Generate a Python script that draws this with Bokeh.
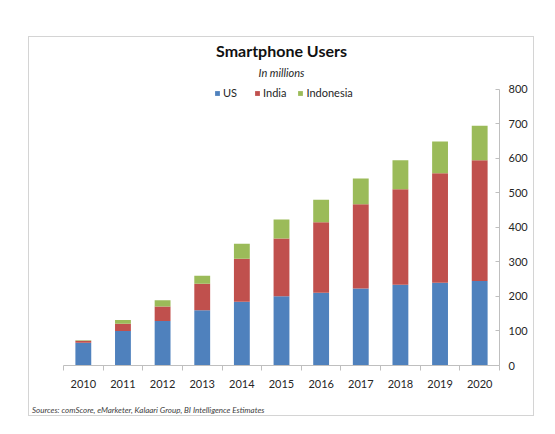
from bokeh.plotting import figure
from bokeh.models import (ColumnDataSource, FixedTicker, Legend, LegendItem, Title, Range1d, Div)
from bokeh.layouts import column
from bokeh.embed import file_html
from bokeh.resources import INLINE

years = ["2010", "2011", "2012", "2013", "2014", "2015", "2016", "2017", "2018", "2019", "2020"]
us = [66, 100, 129, 160, 185, 201, 211, 223, 234, 240, 245]
india = [6, 21, 42, 77, 124, 167, 204, 244, 277, 317, 350]
indonesia = [1, 11, 18, 23, 44, 55, 65, 75, 84, 92, 100]
series = ["US", "India", "Indonesia"]
colors = ["#4F81BD", "#C0504D", "#9BBB59"]
y_ticks = [0, 100, 200, 300, 400, 500, 600, 700, 800]
sources_text = "Sources: comScore, eMarketer, Kalaari Group, BI Intelligence Estimates"

FONT = "Lato"

xs = [i + 0.5 for i in range(len(years))]
source = ColumnDataSource(dict(x=xs, US=us, India=india, Indonesia=indonesia))

p = figure(width=504, height=362, output_backend="svg", toolbar_location=None,
           x_range=Range1d(0, len(years)), y_range=Range1d(0, 820),
           y_axis_location="right")
p.margin = 0
p.min_border_left = 34
p.min_border_right = 34
p.min_border_top = 45
p.min_border_bottom = 34
p.outline_line_color = None
p.xgrid.grid_line_color = None
p.ygrid.grid_line_color = None
p.background_fill_color = "white"
p.border_fill_color = "white"

renderers = p.vbar_stack(series, x="x", width=0.4, source=source, color=colors,
                         line_color=None)

# x axis
p.xaxis.ticker = FixedTicker(ticks=xs, minor_ticks=list(range(len(years) + 1)))
p.xaxis.major_label_overrides = {x: y for x, y in zip(xs, years)}
p.xaxis.major_tick_in = 0
p.xaxis.major_tick_out = 0
p.xaxis.minor_tick_in = 0
p.xaxis.minor_tick_out = 5
p.xaxis.minor_tick_line_color = "#bfbfbf"
p.xaxis.axis_line_color = "#bfbfbf"
p.xaxis.major_label_text_font = FONT
p.xaxis.major_label_text_font_size = "11px"
p.xaxis.major_label_text_color = "#262626"
p.xaxis.major_label_standoff = 9

# y axis
p.yaxis.ticker = FixedTicker(ticks=y_ticks)
p.yaxis.bounds = (0, 800)
p.yaxis.major_tick_in = 4
p.yaxis.major_tick_out = 0
p.yaxis.minor_tick_line_color = None
p.yaxis.major_tick_line_color = "#bfbfbf"
p.yaxis.axis_line_color = "#bfbfbf"
p.yaxis.major_label_text_font = FONT
p.yaxis.major_label_text_font_size = "11px"
p.yaxis.major_label_text_color = "#262626"
p.yaxis.major_label_standoff = 9

# legend inside the top of the frame
legend = Legend(items=[LegendItem(label=s, renderers=[r]) for s, r in zip(series, renderers)],
                orientation="horizontal", location=(151, 266))
legend.glyph_width = 6
legend.glyph_height = 6
legend.label_height = 12
legend.label_standoff = 3
legend.spacing = 11
legend.padding = 0
legend.margin = 0
legend.border_line_color = None
legend.background_fill_alpha = 0
legend.label_text_font = FONT
legend.label_text_font_size = "11px"
legend.label_text_color = "#262626"
p.add_layout(legend, "center")

p.add_layout(Title(text="In millions", text_font=FONT, text_font_size="11px",
                   text_font_style="italic", align="center", text_color="#262626",
                   standoff=7), "above")
p.add_layout(Title(text="Smartphone Users", text_font=FONT, text_font_size="16px",
                   text_font_style="bold", align="center", text_color="#111111",
                   standoff=2), "above")

src = Div(text=sources_text, width=504, height=16, margin=0,
          styles={"font-family": FONT, "font-size": "8px", "font-style": "italic",
                  "color": "#404040", "line-height": "10px",
                  "padding-left": "3px", "padding-top": "6px", "box-sizing": "border-box",
                  "overflow": "hidden", "white-space": "nowrap", "background": "white"})

layout = column(p, src, spacing=0)
layout.margin = (36, 0, 0, 28)
layout.styles = {"border": "1px solid #d4d4d4", "background": "white"}

open("out.html", "w").write(file_html(layout, INLINE))
